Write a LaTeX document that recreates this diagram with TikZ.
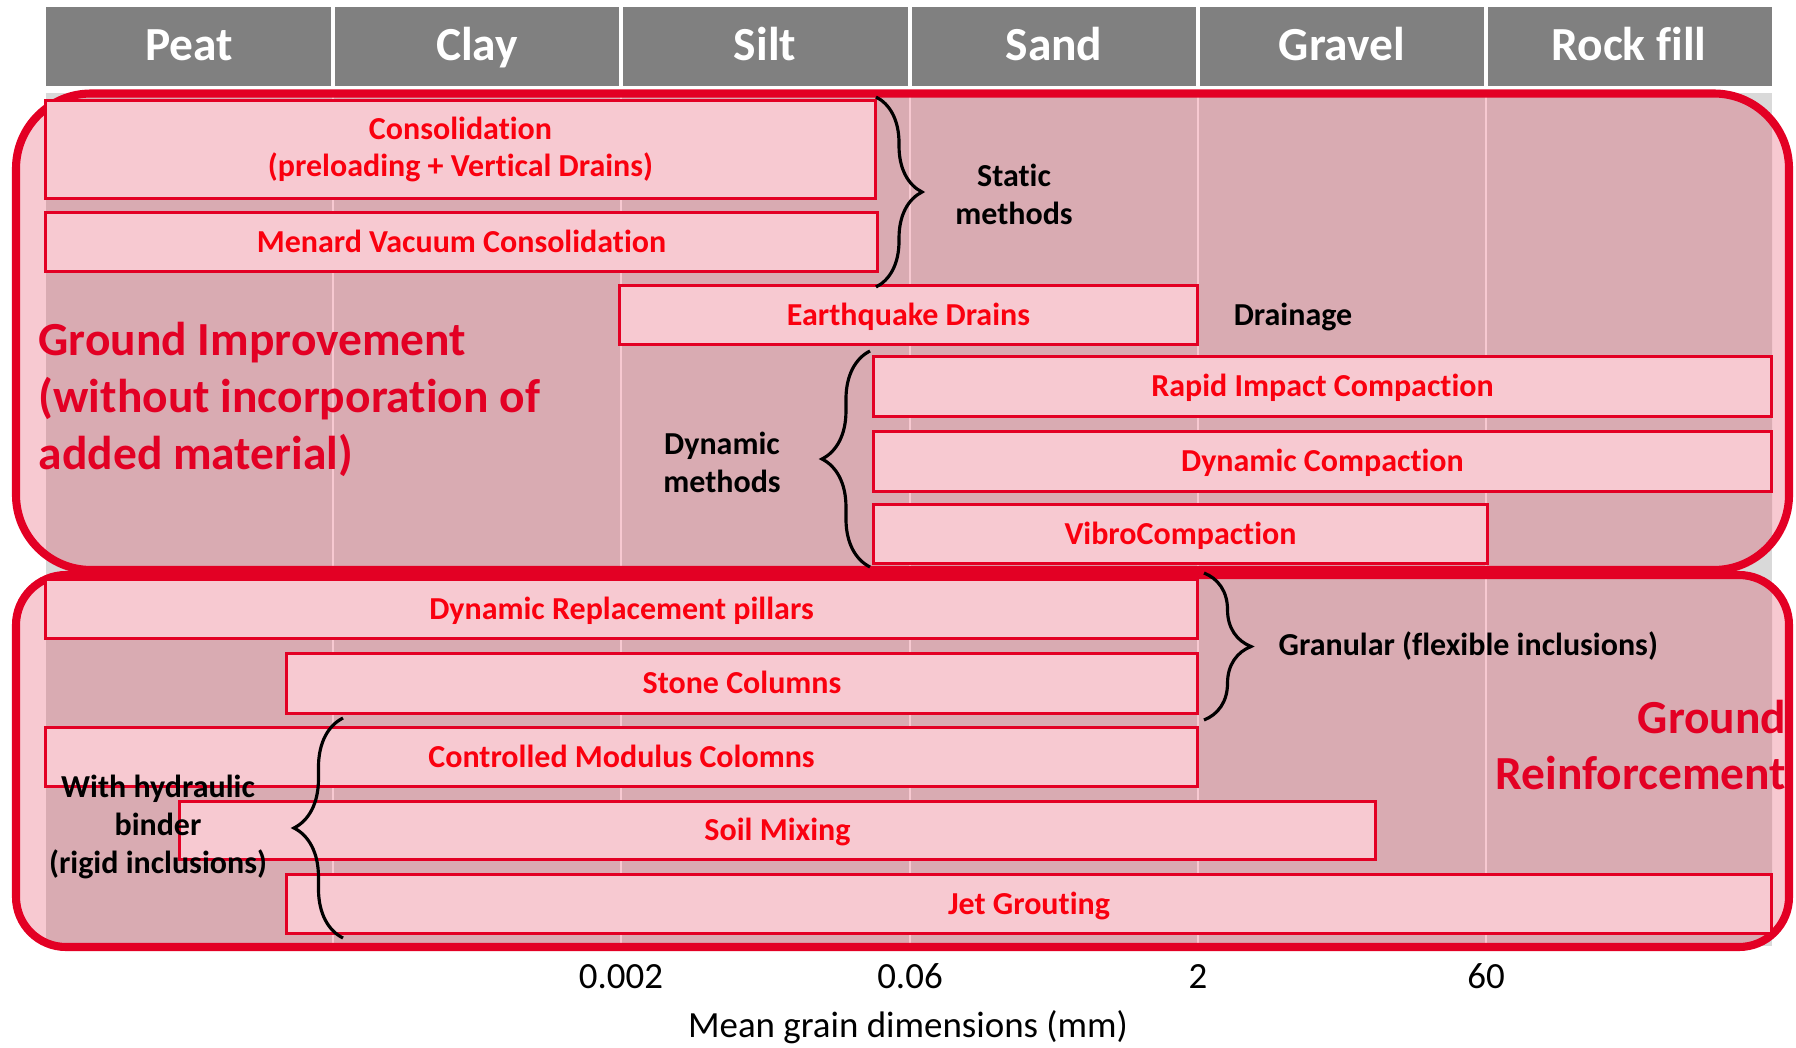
\documentclass[tikz,border=0pt]{standalone}
\usepackage{fontspec}
\setmainfont{Carlito}[Ligatures=CommonOff]
\usepackage{tikz}
\usetikzlibrary{decorations.pathreplacing}
\definecolor{headgray}{rgb}{0.50, 0.50, 0.50}
\definecolor{zonegray}{rgb}{0.85, 0.85, 0.85}
\definecolor{lightpink}{rgb}{0.97, 0.79, 0.82}
\definecolor{mauve}{rgb}{0.85, 0.67, 0.70}
\definecolor{framered}{rgb}{0.89, 0.0, 0.14}
\definecolor{textred}{rgb}{0.98, 0.0, 0.06}

\tikzset{
  headlabel/.style={text=white, font=\bfseries\fontsize{13.5}{16}\selectfont, inner sep=0pt},
  methodbar/.style={draw=framered, line width=0.85pt, fill=lightpink, text=textred, font=\bfseries\fontsize{9.1}{10.5}\selectfont, inner sep=0pt, align=center},
  oneline/.style={text height=5.9pt, text depth=0pt},
  grouplabel/.style={text=black, font=\bfseries\fontsize{9.1}{10.8}\selectfont, inner sep=0pt, align=center},
  bigtitle/.style={text=framered, font=\bfseries\fontsize{13.5}{16.2}\selectfont, inner sep=0pt},
  axislabel/.style={font=\fontsize{10.5}{12.6}\selectfont, inner sep=0pt},
  bracket/.style={decorate, line width=0.9pt, black},
  groupframe/.style={framered, line width=2.3pt}
}

\begin{document}
\begin{tikzpicture}[x=0.01cm,y=-0.01cm]
        \useasboundingbox (0,0) rectangle (1796,1048);

        % Soil classes header
        \fill[headgray] (46,7) rectangle (1772,86);
        \draw[white, line width=0.9pt] (333,7) -- (333,86) (621,7) -- (621,86) (910,7) -- (910,86)
            (1198,7) -- (1198,86) (1486,7) -- (1486,86);
        \node[headlabel, anchor=base] (peat) at (189,60) {Peat};
        \node[headlabel, anchor=base] (clay) at (477,60) {Clay};
        \node[headlabel, anchor=base] (silt) at (765,60) {Silt};
        \node[headlabel, anchor=base] (sand) at (1054,60) {Sand};
        \node[headlabel, anchor=base] (gravel) at (1342,60) {Gravel};
        \node[headlabel, anchor=base] (rockfill) at (1629,60) {Rock fill};

        % Column zone and the two groups
        \fill[zonegray] (46,93) rectangle (1772,946);
        \fill[lightpink, rounded corners=0.75cm] (16,93.5) rectangle (1789,570);
        \fill[lightpink, rounded corners=0.5cm] (16,575) rectangle (1789,947);
        \begin{scope}
            \clip (46,93) rectangle (1772,946);
            \fill[mauve, rounded corners=0.75cm] (16,93.5) rectangle (1789,570);
            \fill[mauve, rounded corners=0.5cm] (16,575) rectangle (1789,947);
        \end{scope}
        \draw[lightpink, line width=0.6pt] (333,93) -- (333,946) (621,93) -- (621,946) (910,93) -- (910,946)
            (1198,93) -- (1198,946) (1486,93) -- (1486,946);
        \draw[groupframe, rounded corners=0.75cm] (16,93.5) rectangle (1789,570);
        \draw[groupframe, rounded corners=0.5cm] (16,575) rectangle (1789,947);

        % Ground improvement methods
        \node[methodbar, minimum width=8.29cm, minimum height=0.97cm] (cons) at (460.5,149.5) {Consolidation\\(preloading + Vertical Drains)};
        \node[methodbar, oneline, minimum width=8.31cm, minimum height=0.58cm] (menard) at (461.5,242) {Menard Vacuum Consolidation};
        \node[methodbar, oneline, minimum width=5.77cm, minimum height=0.58cm] (quake) at (908.5,315) {Earthquake Drains};
        \node[methodbar, oneline, minimum width=8.97cm, minimum height=0.59cm] (ric) at (1322.5,386.5) {Rapid Impact Compaction};
        \node[methodbar, oneline, minimum width=8.97cm, minimum height=0.59cm] (dyncomp) at (1322.5,461.5) {Dynamic Compaction};
        \node[methodbar, oneline, minimum width=6.13cm, minimum height=0.58cm] (vibro) at (1180.5,534) {VibroCompaction};

        % Ground reinforcement methods
        \node[methodbar, oneline, minimum width=11.51cm, minimum height=0.58cm] (dynrep) at (621.5,609) {Dynamic Replacement pillars};
        \node[methodbar, oneline, minimum width=9.10cm, minimum height=0.59cm] (stone) at (742,683.5) {Stone Columns};
        \node[methodbar, oneline, minimum width=11.51cm, minimum height=0.58cm] (cmc) at (621.5,757) {Controlled Modulus Colomns};
        \node[methodbar, oneline, minimum width=11.95cm, minimum height=0.57cm] (soilmix) at (777.5,830.5) {Soil Mixing};
        \node[methodbar, oneline, minimum width=14.84cm, minimum height=0.58cm] (jet) at (1029,904) {Jet Grouting};

        % Braces
        \draw[bracket, decoration={brace, amplitude=0.46cm}] (876,97) -- (876,287);
        \draw[bracket, decoration={brace, amplitude=0.48cm}] (870,567) -- (870,351);
        \draw[bracket, decoration={brace, amplitude=0.47cm}] (1204,573) -- (1204,720);
        \draw[bracket, decoration={brace, amplitude=0.49cm}] (343,938) -- (343,718);

        % Group labels
        \node[grouplabel] (static) at (1014,194) {Static\\methods};
        \node[grouplabel, anchor=base] (drain) at (1293,325) {Drainage};
        \node[grouplabel] (dynamic) at (722,462) {Dynamic\\methods};
        \node[grouplabel, anchor=base west] (granular) at (1278,655) {Granular (flexible inclusions)};
        \node[grouplabel] (hydraulic) at (158,827) {With hydraulic\\binder\\(rigid inclusions)};

        % Titles
        \node[bigtitle, anchor=west, align=left] (improve) at (38,399) {Ground Improvement\\(without incorporation of\\added material)};
        \node[bigtitle, anchor=east, align=right] (reinforce) at (1787,745) {Ground\\Reinforcement};

        % Grain size axis
        \node[axislabel, anchor=base] (d1) at (621,988) {0.002};
        \node[axislabel, anchor=base] (d2) at (910,988) {0.06};
        \node[axislabel, anchor=base] (d3) at (1198,988) {2};
        \node[axislabel, anchor=base] (d4) at (1486,988) {60};
        \node[axislabel, anchor=base] (axistitle) at (908,1037) {Mean grain dimensions (mm)};
    \end{tikzpicture}
\end{document}
